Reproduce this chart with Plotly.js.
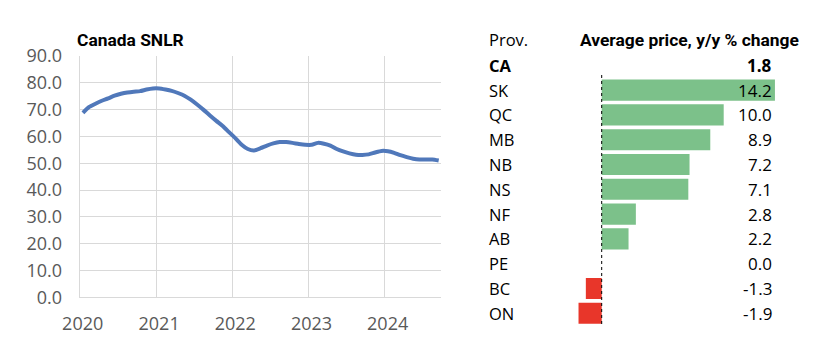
<!DOCTYPE html>
<html>
<head>
<meta charset="utf-8">
<script src="https://cdn.plot.ly/plotly-3.0.1.min.js"></script>
<style>html,body{margin:0;padding:0;background:#fff;}#chart{width:831px;height:354px;}</style>
</head>
<body>
<div id="chart"></div>
<script>
// ---- Data ----
const snlrStart = [2020, 1]; // Jan 2020, monthly
const snlrValues = [
  68.8, 71.0, 72.2, 73.3, 74.2, 75.2, 75.9, 76.4, 76.7, 76.9, 77.5, 77.9,
  77.9, 77.5, 77.0, 76.2, 75.2, 73.7, 71.9, 69.9, 67.8, 65.8, 63.9, 61.6,
  59.3, 56.9, 55.3, 54.8, 55.6, 56.6, 57.4, 57.9, 57.9, 57.6, 57.2, 56.9,
  56.9, 57.6, 57.3, 56.6, 55.3, 54.4, 53.7, 53.2, 53.1, 53.3, 54.0, 54.6,
  54.5, 53.9, 53.0, 52.3, 51.7, 51.4, 51.4, 51.4, 51.0
];
const yearTicks = ['2020', '2021', '2022', '2023', '2024'];

const provinces = ['CA', 'SK', 'QC', 'MB', 'NB', 'NS', 'NF', 'AB', 'PE', 'BC', 'ON'];
const priceChange = [1.8, 14.2, 10.0, 8.9, 7.2, 7.1, 2.8, 2.2, 0.0, -1.3, -1.9];
const showBar = [false, true, true, true, true, true, true, true, true, true, true];

const leftTitle = 'Canada SNLR';
const provHeader = 'Prov.';
const valueHeader = 'Average price, y/y % change';

// ---- Build ----
const months = [];
for (let i = 0; i < snlrValues.length; i++) {
  const y = snlrStart[0] + Math.floor((snlrStart[1] - 1 + i) / 12);
  const m = ((snlrStart[1] - 1 + i) % 12) + 1;
  months.push(y + '-' + String(m).padStart(2, '0'));
}

const W = 831, H = 354;
const px = v => v / W;
const py = v => 1 - v / H;

const barX = priceChange.map((v, i) => showBar[i] ? v : null);
const barColors = priceChange.map(v => v < 0 ? '#e8362a' : '#7cc18a');

const bodyFont = 'Open Sans, Liberation Sans, sans-serif';
const headFont = 'Roboto, Liberation Sans, sans-serif';

const traces = [
  {
    type: 'scatter', mode: 'lines',
    x: months, y: snlrValues,
    xperiod: 'M1', xperiodalignment: 'middle',
    line: {color: '#5078ba', width: 4, shape: 'spline', smoothing: 0.6},
    xaxis: 'x', yaxis: 'y', hoverinfo: 'x+y'
  },
  {
    type: 'bar', orientation: 'h',
    x: barX, y: provinces,
    marker: {color: barColors, line: {width: 0}},
    xaxis: 'x2', yaxis: 'y2'
  }
];

const annotations = [];
provinces.forEach((p, i) => {
  const bold = (p === 'CA');
  annotations.push({
    xref: 'paper', yref: 'y2', x: px(487), y: p,
    xanchor: 'left', yanchor: 'middle', showarrow: false,
    text: bold ? '<b>' + p + '</b>' : p,
    font: {family: bodyFont, size: 16.5, color: '#000'}
  });
  const vt = priceChange[i].toFixed(1);
  annotations.push({
    xref: 'paper', yref: 'y2', x: px(774), y: p,
    xanchor: 'right', yanchor: 'middle', showarrow: false,
    text: bold ? '<b>' + vt + '</b>' : vt,
    font: {family: bodyFont, size: 17, color: '#000'}
  });
});
annotations.push({
  xref: 'paper', yref: 'paper', x: px(487), y: py(39.5),
  xanchor: 'left', yanchor: 'middle', showarrow: false, text: provHeader,
  font: {family: bodyFont, size: 16.5, color: '#000'}
});
annotations.push({
  xref: 'paper', yref: 'paper', x: px(801), y: py(39.5),
  xanchor: 'right', yanchor: 'middle', showarrow: false, text: '<b>' + valueHeader + '</b>',
  font: {family: headFont, size: 17.4, color: '#000'}
});

const layout = {
  width: W, height: H,
  margin: {l: 0, r: 0, t: 0, b: 0},
  paper_bgcolor: '#fff', plot_bgcolor: '#fff',
  showlegend: false,
  title: {
    text: '<b>' + leftTitle + '</b>',
    x: px(77), xref: 'paper', xanchor: 'left',
    y: py(39.5), yref: 'paper', yanchor: 'middle',
    font: {family: headFont, size: 17.4, color: '#000'}
  },
  xaxis: {
    domain: [px(79.7), px(441)],
    type: 'date',
    range: ['2020-01-01', '2024-09-27'],
    tickmode: 'array',
    tickvals: yearTicks.map(y => y + '-01-01'),
    ticktext: yearTicks,
    showgrid: true, gridcolor: '#d9d9d9', gridwidth: 1,
    showline: true, linecolor: '#d9d9d9', linewidth: 1,
    zeroline: false, ticks: '',
    ticklabelstandoff: 10,
    ticklabelshift: 3,
    tickfont: {family: bodyFont, size: 18, color: '#595959'},
    anchor: 'y', fixedrange: true
  },
  yaxis: {
    domain: [py(297.3), py(56)],
    range: [0, 90], dtick: 10, tickformat: '.1f',
    showgrid: true, gridcolor: '#d9d9d9', gridwidth: 1,
    showline: true, linecolor: '#d9d9d9', linewidth: 1,
    zeroline: false, ticks: '',
    ticklabelstandoff: 13,
    tickfont: {family: bodyFont, size: 18, color: '#595959'},
    anchor: 'x', fixedrange: true
  },
  xaxis2: {
    domain: [px(560), px(800)],
    range: [(560 - 601.7) / 12.2, (800 - 601.7) / 12.2],
    visible: false, showgrid: false, zeroline: false,
    anchor: 'y2', fixedrange: true
  },
  yaxis2: {
    domain: [py(326.8), py(51.8)],
    type: 'category', categoryorder: 'array', categoryarray: provinces,
    autorange: 'reversed',
    visible: false, showgrid: false,
    anchor: 'x2', fixedrange: true
  },
  bargap: 0.15,
  shapes: [{
    type: 'line', xref: 'x2', yref: 'y2 domain',
    x0: 0, x1: 0, y0: (326.8 - 324) / 275, y1: (326.8 - 73) / 275,
    line: {color: '#000', width: 1, dash: 'dot'}
  }],
  annotations: annotations
};

Plotly.newPlot('chart', traces, layout, {displayModeBar: false, staticPlot: true});
</script>
</body>
</html>
